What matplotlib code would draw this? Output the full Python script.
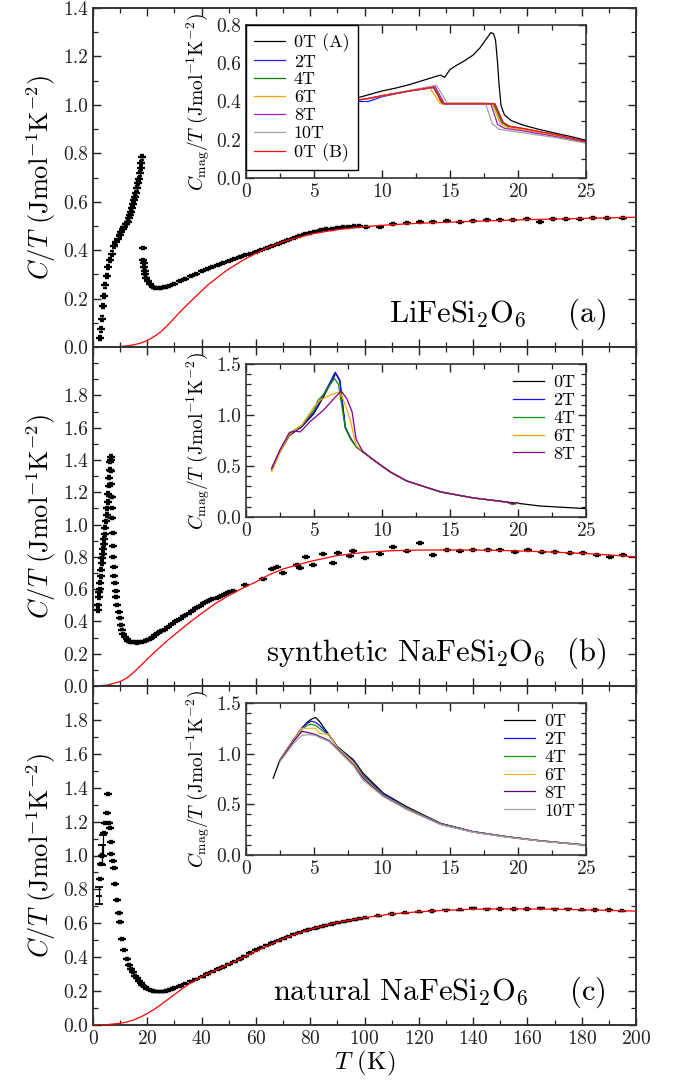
import numpy as np
import matplotlib
matplotlib.use('Agg')
import matplotlib.pyplot as plt
from matplotlib.ticker import MultipleLocator, FixedLocator, FuncFormatter

plt.rcParams['font.family'] = 'serif'
plt.rcParams['font.serif'] = ['cmr10']
plt.rcParams['mathtext.fontset'] = 'cm'
plt.rcParams['axes.unicode_minus'] = False
plt.rcParams['axes.formatter.use_mathtext'] = True

# ---------------- main panel data (C/T vs T) ----------------
# (a) LiFeSi2O6
T_a_low = [2.4, 2.8, 3.3, 3.7, 4.0, 4.5, 5.1, 5.7, 6.3, 7.0, 7.9, 8.5, 9.1, 9.8, 10.4, 11.0, 11.6,
           12.2, 12.8, 13.3, 13.7, 14.1, 14.4, 14.8, 15.2, 15.6, 15.9, 16.3, 16.7, 17.0, 17.3, 17.5,
           17.7, 17.9]
C_a_low = [0.037, 0.073, 0.117, 0.168, 0.211, 0.254, 0.292, 0.331, 0.359, 0.386, 0.417, 0.432, 0.448,
           0.462, 0.476, 0.487, 0.497, 0.507, 0.517, 0.531, 0.545, 0.558, 0.572, 0.590, 0.607, 0.620,
           0.634, 0.655, 0.676, 0.695, 0.717, 0.738, 0.759, 0.783]
T_a_high = [18.5, 18.6, 18.7, 18.8, 19.0, 19.3, 19.7, 20.2, 21, 22, 23, 24, 25, 26, 27, 28, 30, 32, 34,
            36, 38, 40, 42, 44, 46, 48, 50, 52, 54, 56, 58, 60, 62, 64, 66, 68, 70, 72, 74, 76, 78,
            80, 82, 84, 86, 88, 90, 92, 94, 96, 98, 100.7, 105.7, 110.6, 115.5, 120.4, 125.3, 130.3,
            135.2, 140.1, 145.0, 149.9, 154.8, 159.7, 164.6, 169.5, 174.4, 179.4, 184.3, 189.2, 195.3]
C_a_high = [0.407, 0.360, 0.345, 0.330, 0.315, 0.300, 0.285, 0.272, 0.259, 0.249, 0.244, 0.243, 0.244,
            0.246, 0.249, 0.252, 0.262, 0.272, 0.282, 0.292, 0.303, 0.314, 0.322, 0.330, 0.338, 0.347,
            0.356, 0.364, 0.372, 0.379, 0.386, 0.393, 0.400, 0.410, 0.418, 0.427, 0.435, 0.443, 0.451,
            0.459, 0.466, 0.472, 0.477, 0.482, 0.486, 0.489, 0.492, 0.494, 0.496, 0.498, 0.500, 0.497,
            0.497, 0.508, 0.514, 0.518, 0.518, 0.521, 0.518, 0.521, 0.525, 0.525, 0.525, 0.528, 0.515,
            0.529, 0.529, 0.529, 0.531, 0.531, 0.532]
T_a_fit = [0, 5, 10, 12.5, 15, 17.5, 20, 22.5, 25, 27.5, 30, 32.5, 35, 37.5, 40, 42.5, 45, 47.5, 50,
           55, 60, 65, 70, 80, 90, 100, 110, 120, 140, 160, 180, 200]
C_a_fit = [0, 0.0003, 0.002, 0.005, 0.009, 0.016, 0.027, 0.043, 0.063, 0.090, 0.120, 0.150, 0.178,
           0.205, 0.232, 0.258, 0.280, 0.302, 0.322, 0.357, 0.387, 0.413, 0.435, 0.466, 0.485, 0.497,
           0.505, 0.511, 0.519, 0.526, 0.531, 0.536]

# (b) synthetic NaFeSi2O6
T_b_rise = [1.8, 2.0, 2.1, 2.2, 2.4, 2.6, 2.8, 3.0, 3.2, 3.4, 3.6, 3.8, 4.0, 4.2, 4.4, 4.6, 4.8,
            5.0, 5.2, 5.4, 5.6, 5.8, 6.0, 6.2, 6.4, 6.5]
C_b_rise = [0.47, 0.50, 0.58, 0.55, 0.60, 0.64, 0.68, 0.72, 0.76, 0.79, 0.82, 0.85, 0.88, 0.91,
            0.94, 0.98, 1.02, 1.06, 1.10, 1.14, 1.19, 1.24, 1.29, 1.34, 1.39, 1.42]
T_b_fall = [6.6, 6.7, 6.8, 6.9, 7.0, 7.1, 7.2, 7.3, 7.45, 7.6, 7.8, 8.0, 8.3, 8.6, 9.0, 9.4, 9.8,
            10.2, 10.7, 11.2, 11.8, 12.4, 13.0, 13.7, 14.5, 15.3, 16.1, 17.0, 18.0, 19.0, 20.0, 21.0,
            22.0, 23.0, 24.0, 25.0, 26.0, 27.5, 29, 30.5, 32, 33.5, 35, 36.5, 38, 39.5, 41, 42.5, 44,
            45.5, 47, 48.5, 50, 51.5]
C_b_fall = [1.40, 1.33, 1.25, 1.17, 1.10, 1.04, 0.95, 0.87, 0.80, 0.74, 0.68, 0.64, 0.59, 0.55,
            0.50, 0.46, 0.42, 0.38, 0.35, 0.325, 0.305, 0.290, 0.281, 0.275, 0.272, 0.270, 0.269,
            0.270, 0.271, 0.276, 0.283, 0.294, 0.305, 0.316, 0.327, 0.338, 0.349, 0.366, 0.383,
            0.400, 0.417, 0.433, 0.449, 0.465, 0.482, 0.497, 0.513, 0.526, 0.537, 0.548, 0.558,
            0.571, 0.580, 0.588]
T_b_high = [56, 62.7, 65.8, 67.6, 70.1, 75, 76.2, 78.4, 80.9, 84.8, 88.5, 90.3, 94.7, 95.9, 100.2,
            105.7, 110.6, 115.5, 120.4, 125.3, 130.3, 135.2, 140.1, 145.6, 149.9, 155.4, 160.3,
            165.2, 170.2, 175.7, 180.6, 185.5, 190.4, 195.3]
C_b_high = [0.627, 0.663, 0.725, 0.740, 0.700, 0.750, 0.730, 0.800, 0.750, 0.818, 0.762, 0.824,
            0.807, 0.834, 0.793, 0.820, 0.863, 0.834, 0.886, 0.810, 0.840, 0.834, 0.840, 0.840,
            0.843, 0.830, 0.845, 0.828, 0.828, 0.824, 0.824, 0.814, 0.800, 0.814]
T_b_fit = [0, 5, 10, 12.5, 15, 17.5, 20, 22.5, 25, 27.5, 30, 32.5, 35, 37.5, 40, 42.5, 45, 47.5, 50,
           55, 60, 65, 70, 80, 90, 100, 110, 120, 130, 140, 150, 160, 170, 180, 190, 200]
C_b_fit = [0, 0.005, 0.027, 0.050, 0.085, 0.125, 0.167, 0.207, 0.245, 0.283, 0.317, 0.352, 0.386,
           0.418, 0.450, 0.480, 0.510, 0.535, 0.560, 0.605, 0.645, 0.690, 0.725, 0.772, 0.808,
           0.828, 0.838, 0.842, 0.843, 0.842, 0.840, 0.835, 0.829, 0.822, 0.812, 0.800]

# (c) natural NaFeSi2O6
T_c_low = [2.5, 2.8, 3.2, 4.0, 4.5, 5.0, 5.5, 5.9, 6.2, 6.5, 6.8, 7.2, 7.6, 8.2, 8.9, 9.5, 10.0, 10.8,
           11.6, 12.5, 13.3, 14.0, 14.7, 15.4, 16.1, 16.8, 17.5, 18.2]
C_c_low = [0.86, 0.95, 1.00, 1.13, 1.19, 1.25, 1.36, 1.19, 1.16, 1.08, 1.01, 0.97, 0.925, 0.83,
           0.74, 0.66, 0.61, 0.51, 0.44, 0.39, 0.355, 0.33, 0.31, 0.29, 0.275, 0.26, 0.248, 0.235]
T_c_big = [2.2, 3.4, 3.5]
C_c_big = [0.762, 1.004, 1.06]
E_c_big = [0.05, 0.06, 0.06]
T_c_high = [19, 20, 21, 22, 23, 24, 25, 26, 27, 28, 29, 30, 32, 34, 36, 38, 40, 42, 44, 46, 48, 50,
            52, 54, 56, 58, 60, 62, 64, 66, 68, 70, 72, 74, 76, 78, 80, 82, 84, 86, 88, 90, 92, 94,
            96, 98, 100, 105, 110, 115, 120, 125, 130, 135, 140, 145, 150, 155, 160, 165, 170, 175,
            180, 185, 190, 195]
C_c_high = [0.225, 0.215, 0.207, 0.201, 0.198, 0.196, 0.196, 0.198, 0.201, 0.206, 0.212, 0.218,
            0.230, 0.243, 0.258, 0.270, 0.285, 0.300, 0.315, 0.330, 0.343, 0.358, 0.373, 0.390,
            0.405, 0.425, 0.443, 0.457, 0.470, 0.483, 0.497, 0.510, 0.522, 0.534, 0.545, 0.556,
            0.565, 0.573, 0.580, 0.588, 0.596, 0.603, 0.610, 0.616, 0.622, 0.628, 0.633, 0.645,
            0.655, 0.662, 0.668, 0.673, 0.677, 0.680, 0.688, 0.683, 0.684, 0.684, 0.685, 0.688,
            0.683, 0.682, 0.681, 0.678, 0.679, 0.675]
T_c_fit = [0, 5, 10, 12.5, 15, 17.5, 20, 22.5, 25, 27.5, 30, 32.5, 35, 37.5, 40, 42.5, 45, 50, 55,
           60, 70, 80, 90, 100, 110, 120, 130, 140, 150, 160, 170, 180, 190, 200]
C_c_fit = [0, 0.002, 0.010, 0.018, 0.030, 0.047, 0.068, 0.092, 0.120, 0.150, 0.180, 0.210, 0.238,
           0.262, 0.285, 0.303, 0.322, 0.358, 0.395, 0.435, 0.510, 0.565, 0.605, 0.633, 0.655,
           0.668, 0.677, 0.683, 0.685, 0.685, 0.683, 0.680, 0.676, 0.672]

# ---------------- inset data (C_mag/T) ----------------
# (a)
ins_a_T_black = [2, 3, 4, 5, 6, 7, 8, 9, 10, 11, 12, 13, 14, 14.3, 14.6, 15.0, 15.5, 16, 16.7, 17.2,
                 17.7, 18.0, 18.2, 18.35, 18.5, 18.6, 18.75, 19.0, 19.5, 20.4, 21.5, 22.9, 24, 25]
ins_a_C_black = [0.15, 0.22, 0.28, 0.32, 0.36, 0.39, 0.415, 0.435, 0.455, 0.47, 0.488, 0.51, 0.532,
                 0.538, 0.526, 0.567, 0.59, 0.61, 0.643, 0.68, 0.73, 0.76, 0.755, 0.72, 0.60, 0.494,
                 0.38, 0.33, 0.30, 0.276, 0.255, 0.232, 0.215, 0.197]
ins_a_T = {
    '2T':     [2, 4, 6, 8, 9, 10, 12, 13.8, 14.5, 18.3, 18.9, 19.4, 20.4, 22.9, 25],
    '4T':     [2, 4, 6, 8, 9, 10, 12, 13.8, 14.4, 18.2, 18.8, 19.3, 20.4, 22.9, 25],
    '6T':     [2, 4, 6, 8, 9, 10, 12, 13.5, 14.3, 18.1, 18.7, 19.2, 20.4, 22.9, 25],
    '8T':     [2, 4, 6, 8, 9, 10, 12, 13.9, 14.6, 18.0, 18.5, 19.0, 20.4, 22.9, 25],
    '10T':    [2, 4, 6, 8, 9, 10, 12, 14.0, 14.8, 17.6, 18.1, 18.6, 20.4, 22.9, 25],
    '0T (B)': [2, 4, 6, 8, 9, 10, 12, 13.8, 14.5, 18.3, 18.9, 19.4, 20.4, 22.9, 25],
}
ins_a_C = {
    '2T':     [0.12, 0.26, 0.34, 0.400, 0.400, 0.425, 0.455, 0.472, 0.388, 0.388, 0.290, 0.270, 0.258, 0.224, 0.190],
    '4T':     [0.12, 0.26, 0.34, 0.405, 0.415, 0.430, 0.455, 0.475, 0.390, 0.390, 0.290, 0.268, 0.255, 0.222, 0.188],
    '6T':     [0.12, 0.26, 0.34, 0.405, 0.415, 0.430, 0.455, 0.472, 0.388, 0.388, 0.285, 0.265, 0.253, 0.220, 0.187],
    '8T':     [0.12, 0.26, 0.34, 0.405, 0.415, 0.430, 0.455, 0.478, 0.388, 0.388, 0.280, 0.260, 0.246, 0.215, 0.185],
    '10T':    [0.12, 0.26, 0.34, 0.405, 0.415, 0.430, 0.458, 0.485, 0.392, 0.392, 0.285, 0.255, 0.236, 0.210, 0.182],
    '0T (B)': [0.12, 0.26, 0.34, 0.405, 0.417, 0.430, 0.455, 0.475, 0.388, 0.388, 0.290, 0.270, 0.259, 0.225, 0.190],
}
ins_a_colors = {'2T': '#1f1fff', '4T': '#0a7a0a', '6T': '#ffa500', '8T': '#a020c0',
                '10T': '#a0a0a0', '0T (B)': '#ff1010'}

# (b)
ins_b_T_black = [1.9, 2.5, 3.2, 4.1, 5.0, 5.7, 6.3, 6.6, 6.9, 7.3, 7.7, 8.1, 9.4, 10.6, 11.8, 14.3,
                 16.7, 19.2, 21.6, 25]
ins_b_C_black = [0.459, 0.639, 0.80, 0.884, 1.015, 1.18, 1.33, 1.41, 1.34, 0.88, 0.77, 0.688, 0.557,
                 0.442, 0.354, 0.246, 0.187, 0.147, 0.108, 0.082]
ins_b_T = {
    '2T': [1.9, 2.5, 3.2, 4.1, 5.0, 5.7, 6.3, 6.55, 6.9, 7.3, 7.7, 8.1, 9.4, 10.6, 11.8, 14.3, 16.7, 19.2, 19.6, 20.0],
    '4T': [1.9, 2.5, 3.2, 4.1, 5.0, 5.3, 5.7, 6.5, 6.8, 7.3, 7.7, 8.1, 9.4, 10.6, 11.8, 14.3, 16.7, 19.2, 19.6, 20.0],
    '6T': [1.9, 2.5, 3.2, 4.1, 5.0, 5.5, 6.2, 6.9, 7.3, 7.7, 8.1, 9.4, 10.6, 11.8, 14.3, 16.7, 19.2, 19.6, 20.0],
    '8T': [1.9, 2.5, 3.2, 3.6, 4.0, 4.7, 5.7, 6.6, 7.0, 7.4, 7.8, 8.1, 8.6, 9.4, 10.6, 11.8, 14.3, 16.7, 19.2, 19.6, 20.0],
}
ins_b_C = {
    '2T': [0.48, 0.65, 0.81, 0.89, 1.03, 1.20, 1.35, 1.42, 1.33, 0.88, 0.77, 0.690, 0.558, 0.443, 0.355, 0.247, 0.188, 0.145, 0.125, 0.140],
    '4T': [0.47, 0.65, 0.82, 0.90, 1.05, 1.146, 1.20, 1.36, 1.30, 0.87, 0.76, 0.690, 0.557, 0.442, 0.354, 0.246, 0.187, 0.146, 0.120, 0.135],
    '6T': [0.45, 0.64, 0.81, 0.90, 1.08, 1.15, 1.196, 1.228, 1.10, 0.93, 0.70, 0.557, 0.442, 0.354, 0.246, 0.187, 0.145, 0.128, 0.138],
    '8T': [0.48, 0.66, 0.83, 0.84, 0.835, 0.934, 1.048, 1.18, 1.235, 1.163, 1.03, 0.76, 0.64, 0.557, 0.442, 0.354, 0.246, 0.187, 0.146, 0.13, 0.14],
}
ins_b_colors = {'2T': '#1010ff', '4T': '#109010', '6T': '#ffa500', '8T': '#800090'}

# (c)
ins_c_T_black = [2.0, 2.5, 3.5, 4.1, 4.5, 4.8, 5.1, 5.4, 6.1, 6.7, 7.9, 8.6, 10.1, 11.8, 14.3, 16.7,
                 19.2, 21.6, 25]
ins_c_C_black = [0.758, 0.94, 1.137, 1.253, 1.31, 1.34, 1.358, 1.319, 1.187, 1.071, 0.94, 0.808,
                 0.61, 0.478, 0.313, 0.231, 0.181, 0.142, 0.099]
ins_c_T = [2.5, 3.5, 4.1, 4.5, 4.8, 5.1, 5.4, 6.1, 6.7, 7.9, 8.6, 10.1, 11.8, 14.3, 16.7, 19.2, 21.6, 25]
ins_c_C = {
    '2T':  [0.94, 1.137, 1.25, 1.30, 1.32, 1.31, 1.28, 1.187, 1.07, 0.93, 0.79, 0.600, 0.470, 0.310, 0.230, 0.180, 0.140, 0.098],
    '4T':  [0.94, 1.13, 1.24, 1.28, 1.29, 1.28, 1.25, 1.18, 1.065, 0.92, 0.78, 0.590, 0.465, 0.308, 0.228, 0.179, 0.140, 0.097],
    '6T':  [0.94, 1.13, 1.25, 1.25, 1.25, 1.25, 1.20, 1.19, 1.06, 0.91, 0.77, 0.585, 0.460, 0.305, 0.227, 0.178, 0.140, 0.097],
    '8T':  [0.93, 1.12, 1.22, 1.21, 1.20, 1.19, 1.17, 1.13, 1.05, 0.89, 0.76, 0.580, 0.455, 0.303, 0.226, 0.177, 0.139, 0.096],
    '10T': [0.92, 1.10, 1.18, 1.187, 1.185, 1.18, 1.16, 1.12, 1.04, 0.88, 0.74, 0.575, 0.450, 0.300, 0.225, 0.176, 0.138, 0.096],
}
ins_c_colors = {'2T': '#1010ff', '4T': '#109010', '6T': '#ffb030', '8T': '#600080', '10T': '#a8a8a8'}

panel_labels = [r'LiFeSi$_2$O$_6$    (a)', r'synthetic NaFeSi$_2$O$_6$  (b)',
                r'natural NaFeSi$_2$O$_6$    (c)']
ylabel_main = r'$C/T$ (Jmol$^{-1}$K$^{-2}$)'
ylabel_ins = r'$C_{\rm mag}/T$ (Jmol$^{-1}$K$^{-2}$)'

# ---------------- figure ----------------
fig = plt.figure(figsize=(6.77, 10.89), dpi=100)
W, H = 677.0, 1089.0
L, R = 93 / W, 636 / W
tops = [8, 347, 686]
bots = [347, 686, 1025]
ymaxs = [1.4, 2.1, 2.0]
ylabmax = [1.4, 1.8, 1.8]
ins_tops = [25, 364, 703]
ins_bots = [178, 517, 855]
ins_ymax = [0.8, 1.5, 1.5]


def fmt1(x, pos):
    return '%.1f' % x


def style(ax, lw):
    ax.tick_params(which='both', direction='in', top=True, right=True, labelsize=14, colors='#222222')
    ax.tick_params(which='major', length=6, width=1.0)
    ax.tick_params(which='minor', length=3.5, width=0.9)
    for s in ax.spines.values():
        s.set_linewidth(lw)
        s.set_color('#333333')


mains = []
for i in range(3):
    ax = fig.add_axes([L, 1 - bots[i] / H, R - L, (bots[i] - tops[i]) / H])
    mains.append(ax)
    style(ax, 1.4)
    ax.set_xlim(0, 200)
    ax.set_ylim(0, ymaxs[i])
    ax.xaxis.set_major_locator(MultipleLocator(20))
    ax.xaxis.set_minor_locator(MultipleLocator(10))
    ax.yaxis.set_major_locator(FixedLocator(np.arange(0, ylabmax[i] + 0.01, 0.2)))
    ax.yaxis.set_minor_locator(MultipleLocator(0.1))
    ax.yaxis.set_major_formatter(FuncFormatter(fmt1))
    if i < 2:
        ax.tick_params(labelbottom=False)
    ax.set_ylabel(ylabel_main, fontsize=19, labelpad=4)
    ax.text(0.945, 0.074, panel_labels[i], transform=ax.transAxes, ha='right', va='baseline',
            fontsize=22)

eb = dict(fmt='_', color='k', ms=5.5, mew=1.7, elinewidth=0.7, capsize=1.6, capthick=0.7)
ax = mains[0]
ax.errorbar(T_a_low, C_a_low, yerr=0.009, **eb)
ax.errorbar(T_a_high, C_a_high, yerr=0.004, **eb)
ax.plot(T_a_fit, C_a_fit, color='#ff0000', lw=0.9, zorder=3)

ax = mains[1]
ax.errorbar(T_b_rise, C_b_rise, yerr=0.01, **eb)
ax.errorbar(T_b_fall, C_b_fall, yerr=0.006, **eb)
ax.errorbar(T_b_high, C_b_high, yerr=0.006, **eb)
ax.plot(T_b_fit, C_b_fit, color='#ff0000', lw=0.9, zorder=3)

ax = mains[2]
ax.errorbar(T_c_low, C_c_low, yerr=0.006, **eb)
ax.errorbar(T_c_big, C_c_big, yerr=E_c_big, fmt='_', color='k', ms=4, mew=1.3, elinewidth=0.9,
            capsize=3, capthick=0.9)
ax.errorbar(T_c_high, C_c_high, yerr=0.004, **eb)
ax.plot(T_c_fit, C_c_fit, color='#ff0000', lw=0.9, zorder=3)
ax.set_xlabel(r'$T$ (K)', fontsize=18, labelpad=1)

# ---------------- insets ----------------
insets = []
for i in range(3):
    ia = fig.add_axes([246 / W, 1 - ins_bots[i] / H, 340 / W, (ins_bots[i] - ins_tops[i]) / H])
    insets.append(ia)
    style(ia, 1.2)
    ia.set_xlim(0, 25)
    ia.set_ylim(0, ins_ymax[i])
    ia.xaxis.set_major_locator(MultipleLocator(5))
    ia.xaxis.set_minor_locator(MultipleLocator(2.5))
    if i == 0:
        ia.yaxis.set_major_locator(MultipleLocator(0.2))
    else:
        ia.yaxis.set_major_locator(MultipleLocator(0.5))
    ia.yaxis.set_minor_locator(MultipleLocator(0.1))
    ia.yaxis.set_major_formatter(FuncFormatter(fmt1))
    ia.set_ylabel(ylabel_ins, fontsize=14, labelpad=3)

leg_kw = dict(fontsize=13, handlelength=1.7, handletextpad=0.5, labelspacing=0.12)

ia = insets[0]
ia.plot(ins_a_T_black, ins_a_C_black, color='k', lw=0.9, label='0T (A)')
for k in ['2T', '4T', '6T', '8T', '10T', '0T (B)']:
    ia.plot(ins_a_T[k], ins_a_C[k], color=ins_a_colors[k], lw=0.9, label=k)
lg = ia.legend(loc='upper left', borderaxespad=0, fancybox=False, framealpha=1, edgecolor='k',
               borderpad=0.45, **leg_kw)
lg.get_frame().set_linewidth(1.0)
lg.set_zorder(10)

ia = insets[1]
ia.plot(ins_b_T_black, ins_b_C_black, color='k', lw=0.9, label='0T')
for k in ['2T', '4T', '6T', '8T']:
    ia.plot(ins_b_T[k], ins_b_C[k], color=ins_b_colors[k], lw=0.9, label=k)
ia.legend(loc='upper right', frameon=False, borderaxespad=0.2, **leg_kw)

ia = insets[2]
ia.plot(ins_c_T_black, ins_c_C_black, color='k', lw=0.9, label='0T')
for k in ['2T', '4T', '6T', '8T', '10T']:
    ia.plot(ins_c_T, ins_c_C[k], color=ins_c_colors[k], lw=0.9, label=k)
ia.legend(loc='upper right', frameon=False, borderaxespad=0.2, **leg_kw)

fig.savefig('out.png', dpi=100)
